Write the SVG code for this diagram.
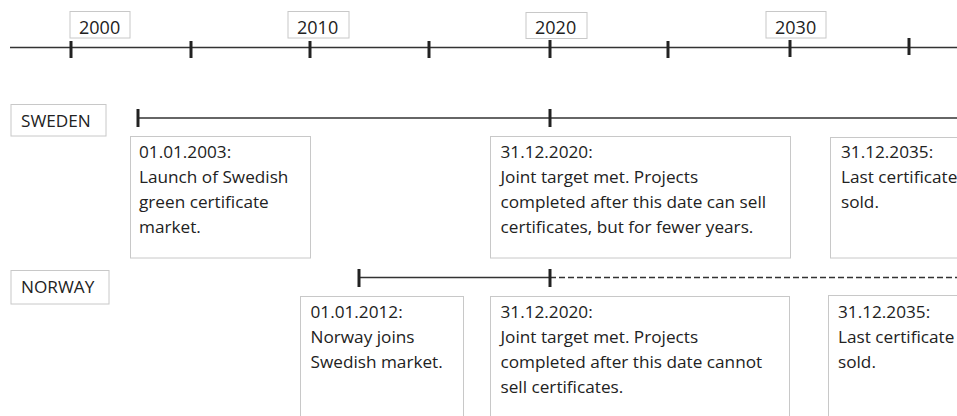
<svg xmlns="http://www.w3.org/2000/svg" width="957" height="416" viewBox="0 0 957 416">
<style>
text{font-family:"Open Sans","Noto Sans","Liberation Sans",sans-serif;font-size:17.2px;fill:#222}
text.yr{font-size:18px}
.box{fill:#fff;stroke:#c8c8c8;stroke-width:1}
.axis{stroke:#333;stroke-width:1.5;fill:none}
.tick{stroke:#222;stroke-width:3}
.dash{stroke:#333;stroke-width:1.5;stroke-dasharray:6 3;fill:none}
</style>
<rect width="957" height="416" fill="#fff"/>
<g id="connectors">
<line class="axis" x1="10" y1="47.5" x2="957" y2="47.5"/>
<line class="tick" x1="71" y1="41" x2="71" y2="58"/>
<line class="tick" x1="191" y1="41" x2="191" y2="58"/>
<line class="tick" x1="310" y1="41" x2="310" y2="58"/>
<line class="tick" x1="429" y1="41" x2="429" y2="58"/>
<line class="tick" x1="550" y1="40" x2="550" y2="58"/>
<line class="tick" x1="668" y1="41" x2="668" y2="58"/>
<line class="tick" x1="790" y1="40" x2="790" y2="57"/>
<line class="tick" x1="909" y1="38" x2="909" y2="55"/>
<line class="axis" x1="138" y1="118" x2="957" y2="118"/>
<line class="tick" x1="138" y1="109" x2="138" y2="127"/>
<line class="tick" x1="550" y1="109" x2="550" y2="127"/>
<line class="axis" x1="359" y1="277.5" x2="550" y2="277.5"/>
<line class="dash" x1="550" y1="277.5" x2="957" y2="277.5"/>
<line class="tick" x1="359" y1="269" x2="359" y2="287"/>
<line class="tick" x1="550" y1="269" x2="550" y2="287"/>
</g>
<g id="y2000"><rect class="box" x="70" y="11.5" width="60" height="26.5"/><text class="yr" x="79" y="34">2000</text></g>
<g id="y2010"><rect class="box" x="288" y="11.5" width="61" height="26.5"/><text class="yr" x="297" y="34">2010</text></g>
<g id="y2020"><rect class="box" x="526" y="12.5" width="61" height="26"/><text class="yr" x="535" y="34">2020</text></g>
<g id="y2030"><rect class="box" x="766" y="11.5" width="60" height="26.5"/><text class="yr" x="775" y="34">2030</text></g>
<g id="sweden"><rect class="box" x="11" y="104.5" width="95" height="31.5"/><text x="21" y="127">SWEDEN</text></g>
<g id="norway"><rect class="box" x="11" y="270.5" width="98" height="33.5"/><text x="21" y="293">NORWAY</text></g>
<g id="s2003"><rect class="box" x="130.5" y="136.5" width="180" height="121.5"/>
<text><tspan x="139" y="158">01.01.2003:</tspan><tspan x="139" y="183">Launch of Swedish</tspan><tspan x="139" y="208">green certificate</tspan><tspan x="139" y="233">market.</tspan></text></g>
<g id="s2020"><rect class="box" x="490.5" y="136.5" width="300" height="121.5"/>
<text><tspan x="500.5" y="158">31.12.2020:</tspan><tspan x="500.5" y="183">Joint target met. Projects</tspan><tspan x="500.5" y="208">completed after this date can sell</tspan><tspan x="500.5" y="233">certificates, but for fewer years.</tspan></text></g>
<g id="s2035"><rect class="box" x="830.5" y="137.5" width="140" height="120.5"/>
<text><tspan x="841" y="158">31.12.2035:</tspan><tspan x="841" y="183">Last certificate</tspan><tspan x="841" y="208">sold.</tspan></text></g>
<g id="n2012"><rect class="box" x="300.5" y="296.5" width="163" height="140"/>
<text><tspan x="310.5" y="318">01.01.2012:</tspan><tspan x="310.5" y="343">Norway joins</tspan><tspan x="310.5" y="368">Swedish market.</tspan></text></g>
<g id="n2020"><rect class="box" x="490.5" y="296.5" width="299" height="140"/>
<text><tspan x="500.5" y="318">31.12.2020:</tspan><tspan x="500.5" y="343">Joint target met. Projects</tspan><tspan x="500.5" y="368">completed after this date cannot</tspan><tspan x="500.5" y="393">sell certificates.</tspan></text></g>
<g id="n2035"><rect class="box" x="828.5" y="295.5" width="140" height="141"/>
<text><tspan x="838" y="318">31.12.2035:</tspan><tspan x="838" y="343">Last certificate</tspan><tspan x="838" y="368">sold.</tspan></text></g>
</svg>
